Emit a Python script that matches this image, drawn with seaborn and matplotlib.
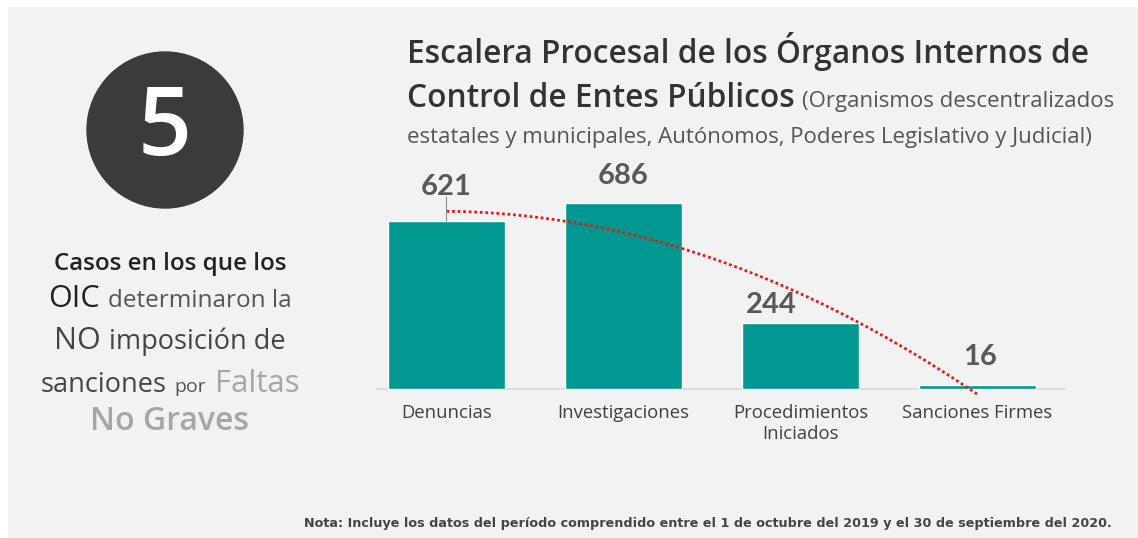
import matplotlib
matplotlib.use("Agg")
import matplotlib.pyplot as plt
from matplotlib.patches import Ellipse, Rectangle
import numpy as np
import seaborn as sns

# data
categories = ["Denuncias", "Investigaciones", "Procedimientos\nIniciados", "Sanciones Firmes"]
values = [621, 686, 244, 16]
# label offsets in pixels (dx, dy) as placed in the original
label_offsets = [(0, 34), (0, 27), (-29, 18), (3, 28)]

W, H = 1138, 538
TEAL = "#009891"

sns.set_theme(style="white")
plt.rcParams["font.family"] = ["Open Sans", "DejaVu Sans"]

fig = plt.figure(figsize=(W / 100, H / 100), dpi=100, facecolor="white")
fig.patches.append(Rectangle((8 / W, 0), 1, 1 - 7 / H, transform=fig.transFigure,
                             color="#f2f2f2", zorder=-10))


def fx(x):
    return x / W


def fy(y):
    return 1 - y / H


def rich_line(parts, x, y, align="center", gap=5):
    # parts: (text, size, color, weight)
    r = fig.canvas.get_renderer()
    texts = [fig.text(0, fy(y), s, fontsize=sz, color=c, fontweight=wt,
                      va="baseline", ha="left") for s, sz, c, wt in parts]
    widths = [t.get_window_extent(r).width for t in texts]
    total = sum(widths) + gap * (len(texts) - 1)
    cur = x - total / 2 if align == "center" else x
    for t, w in zip(texts, widths):
        t.set_x(fx(cur))
        cur += w + gap


# bar chart
ax = fig.add_axes([375.7 / W, 1 - 399.8 / H, (1066 - 375.7) / W, (399.8 - 172.6) / H])
ax.set_facecolor("none")
sns.barplot(x=categories, y=values, color=TEAL, width=0.66, saturation=1, ax=ax, zorder=2)
ax.axhline(0, color="#d9d9d9", lw=1.2, zorder=1)

xs = np.arange(len(values))
coef = np.polyfit(xs, values, 2)
xt = np.linspace(0, len(values) - 1, 200)
ax.plot(xt, np.polyval(coef, xt), ls=(0, (1, 1)), color="#e8191c", lw=2, zorder=3,
        clip_on=False)

for i, (v, (dx, dy)) in enumerate(zip(values, label_offsets)):
    ax.annotate(str(v), xy=(i, v), xytext=(dx, dy), textcoords="offset pixels",
                ha="center", va="center", fontsize=21, fontweight="bold", color="#595959",
                family=["Lato", "DejaVu Sans"])
# leader line from first label
ax.annotate("", xy=(0, values[0]), xytext=(0, 24), textcoords="offset pixels",
            arrowprops=dict(arrowstyle="-", color="#8c8c8c", lw=0.8, shrinkA=0, shrinkB=0))

ax.set_xlim(-0.4, 3.5)
ax.set_ylim(-40, 800)
ax.set_yticks([])
ax.set_xlabel("")
ax.set_ylabel("")
for s in ax.spines.values():
    s.set_visible(False)
ax.tick_params(axis="x", length=0, pad=3, labelsize=13.3, labelcolor="#404040")

# title
rich_line([("Escalera Procesal de los Órganos Internos de", 22.8, "#333333", "semibold")], 407, 63, align="left")
rich_line([("Control de Entes Públicos", 22.8, "#333333", "semibold"),
           ("(Organismos descentralizados", 16, "#555555", "normal")], 407, 107, align="left", gap=7)
rich_line([("estatales y municipales, Autónomos, Poderes Legislativo y Judicial)", 16, "#555555", "normal")],
          407, 143, align="left")

# left panel
fig.patches.append(Ellipse((fx(165), fy(130)), 156 / W, 156 / H, transform=fig.transFigure,
                           color="#3b3b3b", zorder=1))
fig.text(fx(165), fy(130), "5", fontsize=68, fontweight="semibold", color="white",
         ha="center", va="center")

rich_line([("Casos en los que los", 17.4, "#222222", "semibold")], 170, 270)
rich_line([("OIC", 22, "#222222", "normal"), ("determinaron la", 17.5, "#555555", "normal")], 170, 307, gap=8)
rich_line([("NO", 22, "#444444", "normal"), ("imposición de", 19.5, "#444444", "normal")], 170, 349, gap=8)
rich_line([("sanciones", 19.5, "#444444", "normal"), ("por", 14, "#555555", "normal"),
           ("Faltas", 22.5, "#a6a6a6", "normal")], 170, 392, gap=8)
rich_line([("No Graves", 23, "#a6a6a6", "semibold")], 170, 430)

fig.text(fx(1112), fy(524),
         "Nota: Incluye los datos del período comprendido entre el 1 de octubre del 2019 y el 30 de septiembre del 2020.",
         ha="right", va="center", fontsize=9.2, fontweight="bold", color="#444444",
         family=["DejaVu Sans"])

fig.savefig("out.png", dpi=100, facecolor=fig.get_facecolor())
